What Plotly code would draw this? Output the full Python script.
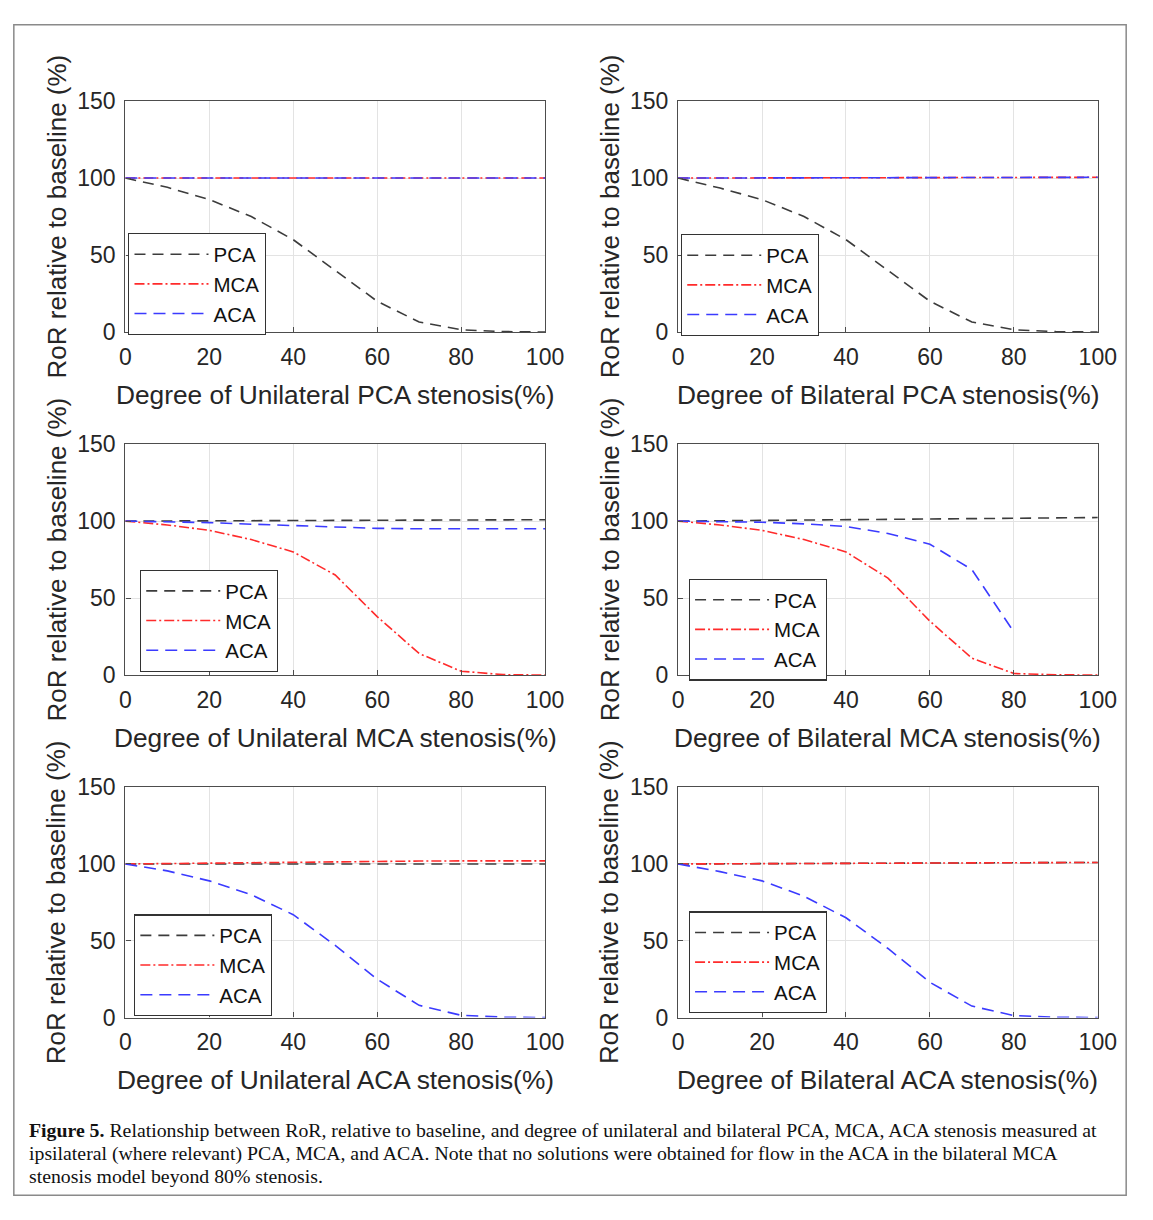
import plotly.graph_objects as go

W, H = 1153, 1220

stenosis = [0, 10, 20, 30, 40, 50, 60, 70, 80, 90, 100]
stenosis_aca_bimca = [0, 10, 20, 30, 40, 50, 60, 70, 80]

# Panel 1: Unilateral PCA stenosis
uni_pca_PCA = [100, 94, 86, 75, 60, 40, 20, 6.5, 1.5, 0.3, 0]
uni_pca_MCA = [100, 100, 100, 100, 100, 100, 100, 100, 100, 100, 100]
uni_pca_ACA = [100, 100, 100, 100, 100, 100, 100, 100, 100, 100, 100]

# Panel 2: Bilateral PCA stenosis
bi_pca_PCA = [100, 93.5, 86, 75, 60, 40, 20, 6.5, 1.5, 0.3, 0]
bi_pca_MCA = [100, 100.1, 100.2, 100.2, 100.3, 100.3, 100.4, 100.4, 100.4, 100.5, 100.5]
bi_pca_ACA = [100, 100.1, 100.2, 100.2, 100.3, 100.3, 100.4, 100.4, 100.4, 100.5, 100.5]

# Panel 3: Unilateral MCA stenosis
uni_mca_PCA = [100, 100.1, 100.2, 100.3, 100.4, 100.5, 100.6, 100.7, 100.8, 100.8, 100.9]
uni_mca_MCA = [100, 97.5, 94, 88, 80, 65, 38, 14, 2.5, 0.3, 0]
uni_mca_ACA = [100, 99.6, 99, 98, 97, 96, 95.3, 95, 95, 95, 95]

# Panel 4: Bilateral MCA stenosis
bi_mca_PCA = [100, 100.2, 100.4, 100.6, 100.9, 101.1, 101.4, 101.7, 101.9, 102.1, 102.3]
bi_mca_MCA = [100, 97.5, 94, 88, 80, 63, 35, 11, 1, 0.2, 0]
bi_mca_ACA = [100, 99.8, 99.3, 98.2, 96.5, 92, 85, 68.5, 28]

# Panel 5: Unilateral ACA stenosis
uni_aca_PCA = [100, 100, 100, 100, 100, 100, 100, 100, 100, 100, 100]
uni_aca_MCA = [100, 100.3, 100.6, 101, 101.3, 101.5, 101.7, 101.9, 102, 102, 102]
uni_aca_ACA = [100, 95.5, 89, 80, 67, 47, 25, 8, 1.5, 0.3, 0]

# Panel 6: Bilateral ACA stenosis
bi_aca_PCA = [100, 100.1, 100.2, 100.3, 100.4, 100.5, 100.6, 100.7, 100.8, 100.9, 101]
bi_aca_MCA = [100, 100.1, 100.2, 100.3, 100.4, 100.5, 100.6, 100.7, 100.8, 100.9, 101]
bi_aca_ACA = [100, 95, 89, 79, 65, 45, 23, 7.5, 1.3, 0.3, 0]

x_titles = [
    "Degree of Unilateral PCA stenosis(%)",
    "Degree of Bilateral PCA stenosis(%)",
    "Degree of Unilateral MCA stenosis(%)",
    "Degree of Bilateral MCA stenosis(%)",
    "Degree of Unilateral ACA stenosis(%)",
    "Degree of Bilateral ACA stenosis(%)",
]
y_title = "RoR relative to baseline (%)"
x_ticks = [0, 20, 40, 60, 80, 100]
y_ticks = [0, 50, 100, 150]

caption_lines = [
    "<b>Figure 5.</b> Relationship between RoR, relative to baseline, and degree of unilateral and bilateral PCA, MCA, ACA stenosis measured at",
    "ipsilateral (where relevant) PCA, MCA, and ACA. Note that no solutions were obtained for flow in the ACA in the bilateral MCA",
    "stenosis model beyond 80% stenosis.",
]

panels = [
    (stenosis, uni_pca_PCA, stenosis, uni_pca_MCA, stenosis, uni_pca_ACA),
    (stenosis, bi_pca_PCA, stenosis, bi_pca_MCA, stenosis, bi_pca_ACA),
    (stenosis, uni_mca_PCA, stenosis, uni_mca_MCA, stenosis, uni_mca_ACA),
    (stenosis, bi_mca_PCA, stenosis, bi_mca_MCA, stenosis_aca_bimca, bi_mca_ACA),
    (stenosis, uni_aca_PCA, stenosis, uni_aca_MCA, stenosis, uni_aca_ACA),
    (stenosis, bi_aca_PCA, stenosis, bi_aca_MCA, stenosis, bi_aca_ACA),
]

# pixel geometry
cols_px = [(122, 551), (687, 1116)]
rows_px = [(90, 326), (440.5, 676.5), (791, 1026.5)]
legend_px = [(125, 225), (690, 226), (137, 569), (698, 578), (131, 921), (698, 918)]

def px_x(v):
    return v / W

def px_y(v):
    return 1 - v / H

styles = {
    "PCA": dict(color="#3c3c3c", dash="11px,7px"),
    "MCA": dict(color="#ff2b2b", dash="10px,3px,2px,3px"),
    "ACA": dict(color="#3b3bff", dash="12px,7px"),
}

fig = go.Figure()
layout = dict(
    width=W, height=H,
    margin=dict(l=0, r=0, t=0, b=0),
    paper_bgcolor="white", plot_bgcolor="white",
    font=dict(family="Liberation Sans, Arial, sans-serif", color="#262626"),
    showlegend=True,
)
annotations = []

for i, data in enumerate(panels):
    r, c = divmod(i, 2)
    n = i + 1
    xa = "x" if n == 1 else f"x{n}"
    ya = "y" if n == 1 else f"y{n}"
    lg = "legend" if n == 1 else f"legend{n}"
    for k, name in enumerate(["PCA", "MCA", "ACA"]):
        fig.add_trace(go.Scatter(
            x=data[2 * k], y=data[2 * k + 1], mode="lines", name=name,
            line=dict(width=1.6, **styles[name]),
            xaxis=xa, yaxis=ya, legend=lg,
        ))
    x0, x1 = cols_px[c]
    y0, y1 = rows_px[r]
    axcommon = dict(
        showline=True, mirror=True, linecolor="#4d4d4d", linewidth=1.3,
        ticks="inside", ticklen=5, tickcolor="#4d4d4d",
        showgrid=True, gridcolor="#e3e3e3", gridwidth=1,
        zeroline=False, tickfont=dict(size=23, color="#262626"),
    )
    layout["xaxis" if n == 1 else f"xaxis{n}"] = dict(
        domain=[px_x(x0), px_x(x1)], range=[0, 100], tickvals=x_ticks,
        anchor=ya, ticklabelstandoff=4, **axcommon,
    )
    layout["yaxis" if n == 1 else f"yaxis{n}"] = dict(
        domain=[px_y(y1), px_y(y0)], range=[0, 150], tickvals=y_ticks,
        anchor=xa, ticklabelstandoff=4, **axcommon,
    )
    lx, ly = legend_px[i]
    layout[lg] = dict(
        x=px_x(lx), y=px_y(ly), xanchor="left", yanchor="top",
        xref="paper", yref="paper",
        bgcolor="white", bordercolor="#333333", borderwidth=1.2,
        font=dict(size=20.5, color="#111111"), itemwidth=74,
        tracegroupgap=0,
    )
    # x axis title
    annotations.append(dict(
        text=x_titles[i], x=px_x((x0 + x1) / 2), y=px_y(y1 + 64),
        xref="paper", yref="paper", showarrow=False,
        xanchor="center", yanchor="middle",
        font=dict(size=26.3, color="#262626"),
    ))
    # y axis title
    annotations.append(dict(
        text=y_title, x=px_x(x0 - 70), y=px_y((y0 + y1) / 2),
        xref="paper", yref="paper", showarrow=False, textangle=-90,
        xanchor="center", yanchor="middle",
        font=dict(size=26, color="#262626"),
    ))

for j, (line, yc) in enumerate(zip(caption_lines, [1141, 1165, 1188])):
    annotations.append(dict(
        text=line, x=px_x(21), y=px_y(yc), xref="paper", yref="paper",
        showarrow=False, xanchor="left", yanchor="middle", align="left",
        font=dict(family="Liberation Serif, Times New Roman, serif", size=19.8, color="#111111"),
    ))

layout["annotations"] = annotations
layout["shapes"] = [dict(
    type="rect", xref="paper", yref="paper",
    x0=px_x(8), x1=px_x(1145), y0=px_y(1208), y1=px_y(12),
    line=dict(color="#8a8a8a", width=1.5), fillcolor="rgba(0,0,0,0)",
)]

fig.update_layout(**layout)
fig.write_html(
    "out.html",
    post_script="document.body.style.margin='0';document.body.style.overflow='hidden';",
)
